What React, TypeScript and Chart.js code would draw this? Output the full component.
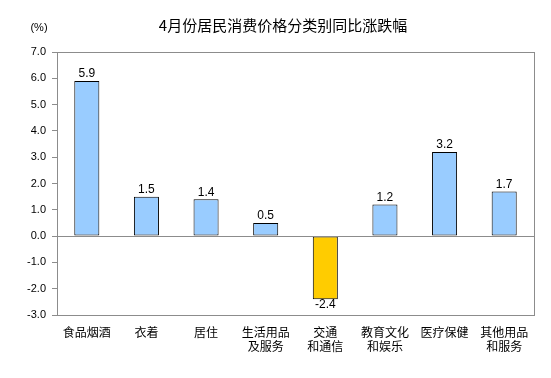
import React, { useEffect, useRef } from "react";
import { Chart, registerables } from "chart.js";

Chart.register(...registerables);

const titleText = "4月份居民消费价格分类别同比涨跌幅";
const unitText = "(%)";
const categories: string[][] = [
  ["食品烟酒"],
  ["衣着"],
  ["居住"],
  ["生活用品", "及服务"],
  ["交通", "和通信"],
  ["教育文化", "和娱乐"],
  ["医疗保健"],
  ["其他用品", "和服务"],
];
const values: number[] = [5.9, 1.5, 1.4, 0.5, -2.4, 1.2, 3.2, 1.7];
const yMin = -3;
const yMax = 7;
const yStep = 1;

const POS_COLOR = "#99CCFF";
const NEG_COLOR = "#FFCC00";
const AXIS_COLOR = "#8c8c8c";
const NUM_FONT = "Liberation Sans, Arial, sans-serif";
const CJK_FONT = "'Noto Sans CJK SC', sans-serif";

const overlayPlugin = {
  id: "overlay",
  afterDatasetsDraw(chart: any) {
    const { ctx, chartArea } = chart;
    const y = chart.scales.y;
    ctx.save();
    ctx.strokeStyle = AXIS_COLOR;
    ctx.lineWidth = 1;
    ctx.strokeRect(
      Math.round(chartArea.left) + 0.5,
      Math.round(chartArea.top) + 0.5,
      Math.round(chartArea.right - chartArea.left),
      Math.round(chartArea.bottom - chartArea.top)
    );
    const y0 = Math.round(y.getPixelForValue(0)) + 0.5;
    ctx.beginPath();
    ctx.moveTo(chartArea.left, y0);
    ctx.lineTo(chartArea.right, y0);
    ctx.stroke();
    const meta = chart.getDatasetMeta(0);
    ctx.fillStyle = "#000";
    ctx.font = "12px " + NUM_FONT;
    ctx.textAlign = "center";
    meta.data.forEach((el: any, i: number) => {
      const v = values[i];
      if (v >= 0) {
        ctx.textBaseline = "bottom";
        ctx.fillText(v.toFixed(1), el.x, el.y - 1);
      } else {
        ctx.textBaseline = "top";
        ctx.fillText(v.toFixed(1), el.x, el.y - 1);
      }
    });
    ctx.font = "15px " + CJK_FONT;
    ctx.textBaseline = "middle";
    ctx.fillText(titleText, 283, 25);
    ctx.font = "11px " + NUM_FONT;
    ctx.fillText(unitText, 39, 28);
    ctx.restore();
  },
};

export default function App() {
  const ref = useRef<HTMLCanvasElement | null>(null);
  useEffect(() => {
    document.body.style.margin = "0";
    const chart = new Chart(ref.current!, {
      type: "bar",
      data: {
        labels: categories,
        datasets: [
          {
            data: values,
            backgroundColor: values.map((v) => (v < 0 ? NEG_COLOR : POS_COLOR)),
            borderColor: "#000",
            borderWidth: 1,
            borderSkipped: false,
            barPercentage: 0.42,
            categoryPercentage: 1,
          },
        ],
      },
      options: {
        responsive: false,
        animation: false,
        devicePixelRatio: 1,
        layout: { padding: { left: 0, right: 17, top: 52, bottom: 0 } },
        plugins: {
          legend: { display: false },
          tooltip: { enabled: false },
          title: { display: false },
        },
        scales: {
          x: {
            grid: { display: false, drawTicks: false },
            border: { display: false },
            ticks: {
              color: "#000",
              font: { family: CJK_FONT, size: 12 },
              padding: 10,
              maxRotation: 0,
              autoSkip: false,
            },
            afterFit(scale: any) {
              scale.height = 63;
            },
          },
          y: {
            min: yMin,
            max: yMax,
            grid: {
              drawOnChartArea: false,
              color: AXIS_COLOR,
              tickLength: 5,
            },
            border: { display: true, color: AXIS_COLOR },
            ticks: {
              stepSize: yStep,
              color: "#000",
              font: { family: NUM_FONT, size: 11 },
              padding: 6,
              callback: (v: any) => Number(v).toFixed(1),
            },
            afterFit(scale: any) {
              scale.width = 57;
            },
          },
        },
      },
      plugins: [overlayPlugin],
    });
    return () => chart.destroy();
  }, []);
  return (
    <div style={{ width: 551, height: 378, background: "#fff" }}>
      <canvas ref={ref} width={551} height={378} style={{ display: "block" }} />
    </div>
  );
}
